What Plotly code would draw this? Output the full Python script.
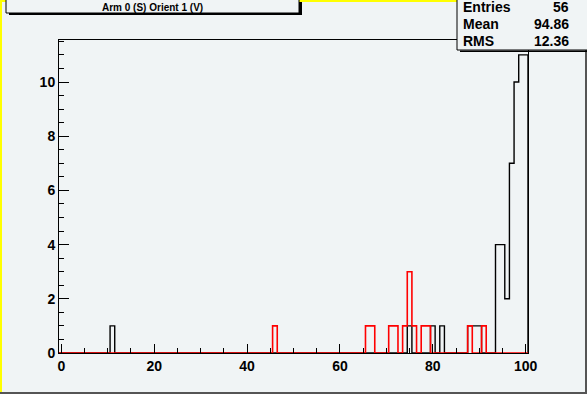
import plotly.graph_objects as go

# ---- data (bin centres are integers, bin width 1, range -0.5 .. 100.5) ----
n_bins = 101
x_low, x_high = -0.5, 100.5

black_bins   = [11, 75, 80, 82, 88, 89, 90, 94, 95, 96, 97, 98, 99, 100]
black_counts = [1, 1, 1, 1, 1, 1, 1, 4, 4, 2, 7, 10, 11, 11]

red_bins   = [46, 66, 67, 71, 72, 74, 75, 76, 78, 79, 88, 91]
red_counts = [1, 1, 1, 1, 1, 1, 3, 1, 1, 1, 1, 1]

title_text = "Arm 0 (S) Orient 1 (V)"
stats_labels = ["Entries", "Mean", "RMS"]
stats_values = ["56", "94.86", "12.36"]

x_tickvals = [0, 20, 40, 60, 80, 100]
y_tickvals = [0, 2, 4, 6, 8, 10]
y_max = 11.55


def full_counts(bins, counts):
    c = [0] * n_bins
    for b, v in zip(bins, counts):
        c[b] = v
    return c


def stairs(counts):
    width = (x_high - x_low) / n_bins
    xs, ys = [x_low], [0]
    for i, v in enumerate(counts):
        lo = x_low + i * width
        hi = lo + width
        xs += [lo, hi]
        ys += [v, v]
    xs.append(x_high)
    ys.append(0)
    return xs, ys


bx, by = stairs(full_counts(black_bins, black_counts))
rx, ry = stairs(full_counts(red_bins, red_counts))

BG = "#f0f4f5"
FONT = "Liberation Sans, Arial, Helvetica, sans-serif"

W, H = 587, 394
L, R, T, B = 59, 528, 40, 353
PW, PH = R - L, B - T


def px(x):
    return (x - L) / PW


def py(y):
    return (B - y) / PH


fig = go.Figure()
fig.add_trace(go.Scatter(x=bx, y=by, mode="lines",
                         line=dict(color="black", width=1.4),
                         hoverinfo="skip", showlegend=False))
fig.add_trace(go.Scatter(x=rx, y=ry, mode="lines",
                         line=dict(color="#ff0000", width=1.6),
                         hoverinfo="skip", showlegend=False))

shapes = []


def rect(x0, y0, x1, y1, fill=None, line_color=None, lw=0):
    shapes.append(dict(type="rect", xref="paper", yref="paper",
                       x0=px(x0), x1=px(x1), y0=py(y1), y1=py(y0),
                       fillcolor=fill if fill else "rgba(0,0,0,0)",
                       line=dict(color=line_color if line_color else "rgba(0,0,0,0)", width=lw),
                       layer="above"))


# canvas border (yellow top/left, dark bottom/right)
rect(0, 0, W, 2, fill="#ffff00")
rect(0, 0, 2, H, fill="#ffff00")
rect(W - 2, 0, W, H, fill="#555555")
rect(0, H - 2, W, H, fill="#555555")

# title box
rect(6, -5, 299, 13, fill=BG, line_color="black", lw=1)
rect(299, 2, 302, 15, fill="black")
rect(9, 13, 302, 15, fill="black")

# stats box
rect(457, -5, W + 5, 50, fill=BG, line_color="black", lw=1)
rect(460, 50.5, W, 52, fill="black")

annotations = [dict(text="<b>" + title_text + "</b>", xref="paper", yref="paper",
                    x=px(152), y=py(7), xanchor="center", yanchor="middle",
                    showarrow=False, font=dict(family=FONT, size=10, color="black"))]
row_y = [7, 24, 41]
for lab, val, yy in zip(stats_labels, stats_values, row_y):
    annotations.append(dict(text="<b>" + lab + "</b>", xref="paper", yref="paper",
                            x=px(461), y=py(yy), xanchor="left", yanchor="middle",
                            showarrow=False, font=dict(family=FONT, size=14, color="black")))
    annotations.append(dict(text="<b>" + val + "</b>", xref="paper", yref="paper",
                            x=px(571), y=py(yy), xanchor="right", yanchor="middle",
                            showarrow=False, font=dict(family=FONT, size=14, color="black")))

fig.update_layout(
    width=W, height=H,
    margin=dict(l=L, r=W - R, t=T, b=H - B, pad=0),
    paper_bgcolor=BG, plot_bgcolor=BG,
    shapes=shapes, annotations=annotations,
    showlegend=False,
    xaxis=dict(range=[x_low, x_high], tickvals=x_tickvals,
               ticktext=["<b>%d</b>" % v for v in x_tickvals],
               ticks="inside", ticklen=9, tickcolor="black", tickwidth=1,
               minor=dict(dtick=5, tick0=0, ticks="inside", ticklen=5, tickcolor="black"),
               showgrid=False, zeroline=False,
               showline=True, linecolor="black", linewidth=1, mirror=True,
               tickfont=dict(family=FONT, size=14, color="black")),
    yaxis=dict(range=[0, y_max], tickvals=y_tickvals,
               ticktext=["<b>%d</b>" % v for v in y_tickvals],
               ticks="inside", ticklen=10, tickcolor="black", tickwidth=1,
               minor=dict(dtick=0.5, tick0=0, ticks="inside", ticklen=5, tickcolor="black"),
               showgrid=False, zeroline=False,
               showline=True, linecolor="black", linewidth=1, mirror=True,
               tickfont=dict(family=FONT, size=14, color="black")),
)

fig.write_html("out.html",
               config={"displayModeBar": False, "staticPlot": True},
               post_script="document.body.style.margin='0';document.body.style.overflow='hidden';")
